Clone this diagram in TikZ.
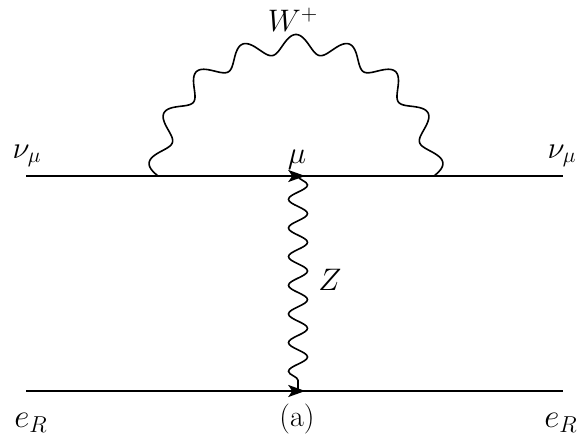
\documentclass[tikz,border=0pt]{standalone}
\usetikzlibrary{decorations.pathmorphing,decorations.markings,arrows.meta}
\newcommand{\biglbl}[1]{\scalebox{1.5}{#1}}
\begin{document}
\begin{tikzpicture}[x=1pt,y=1pt,
  lbl/.style={inner sep=0pt, font=\huge},
  fermion/.style={line width=2pt, postaction={decorate},
    decoration={markings, mark=at position 0.52 with {\arrow{Stealth[length=17pt,width=12pt,inset=4pt]}}}},
  zboson/.style={line width=1.6pt, decorate,
    decoration={snake, segment length=28.67pt, amplitude=9.5pt}},
  wboson/.style={line width=1.6pt}]
\useasboundingbox (0,0) rectangle (581,440);
% end points and vertices
\coordinate (L1) at (26,264);
\coordinate (R1) at (563,264);
\coordinate (L2) at (26,49);
\coordinate (R2) at (563,49);
\coordinate (v1) at (298,264);
\coordinate (v2) at (298,49);
\coordinate (wl) at (158,264);
\coordinate (wr) at (434,264);
% labels
\node[lbl] (nuL) at (27,284) {\biglbl{$\nu_\mu$}};
\node[lbl] (nuR) at (562,284) {\biglbl{$\nu_\mu$}};
\node[lbl] (mu) at (297,280) {\biglbl{$\mu$}};
\node[lbl] (Wlab) at (293,420) {\biglbl{$W^+$}};
\node[lbl] (Zlab) at (330,160) {\biglbl{$Z$}};
\node[lbl] (eL) at (31,17) {\scalebox{1.6}{$e_R$}};
\node[lbl] (eR) at (561,17) {\scalebox{1.6}{$e_R$}};
\node[lbl] (cap) at (297,21) {\scalebox{1.45}{(a)}};
% fermion lines
\draw[fermion] (L1) -- (R1);
\draw[fermion] (L2) -- (R2);
% bosons
\draw[zboson] (v1) -- (v2);
\draw[wboson] (wl) -- plot[domain=180:0, samples=400, smooth]
  ({296+(138+9.5*sin(17*(180-\x)))*cos(\x)}, {264+(132+9.5*sin(17*(180-\x)))*sin(\x)}) -- (wr);
\end{tikzpicture}
\end{document}
